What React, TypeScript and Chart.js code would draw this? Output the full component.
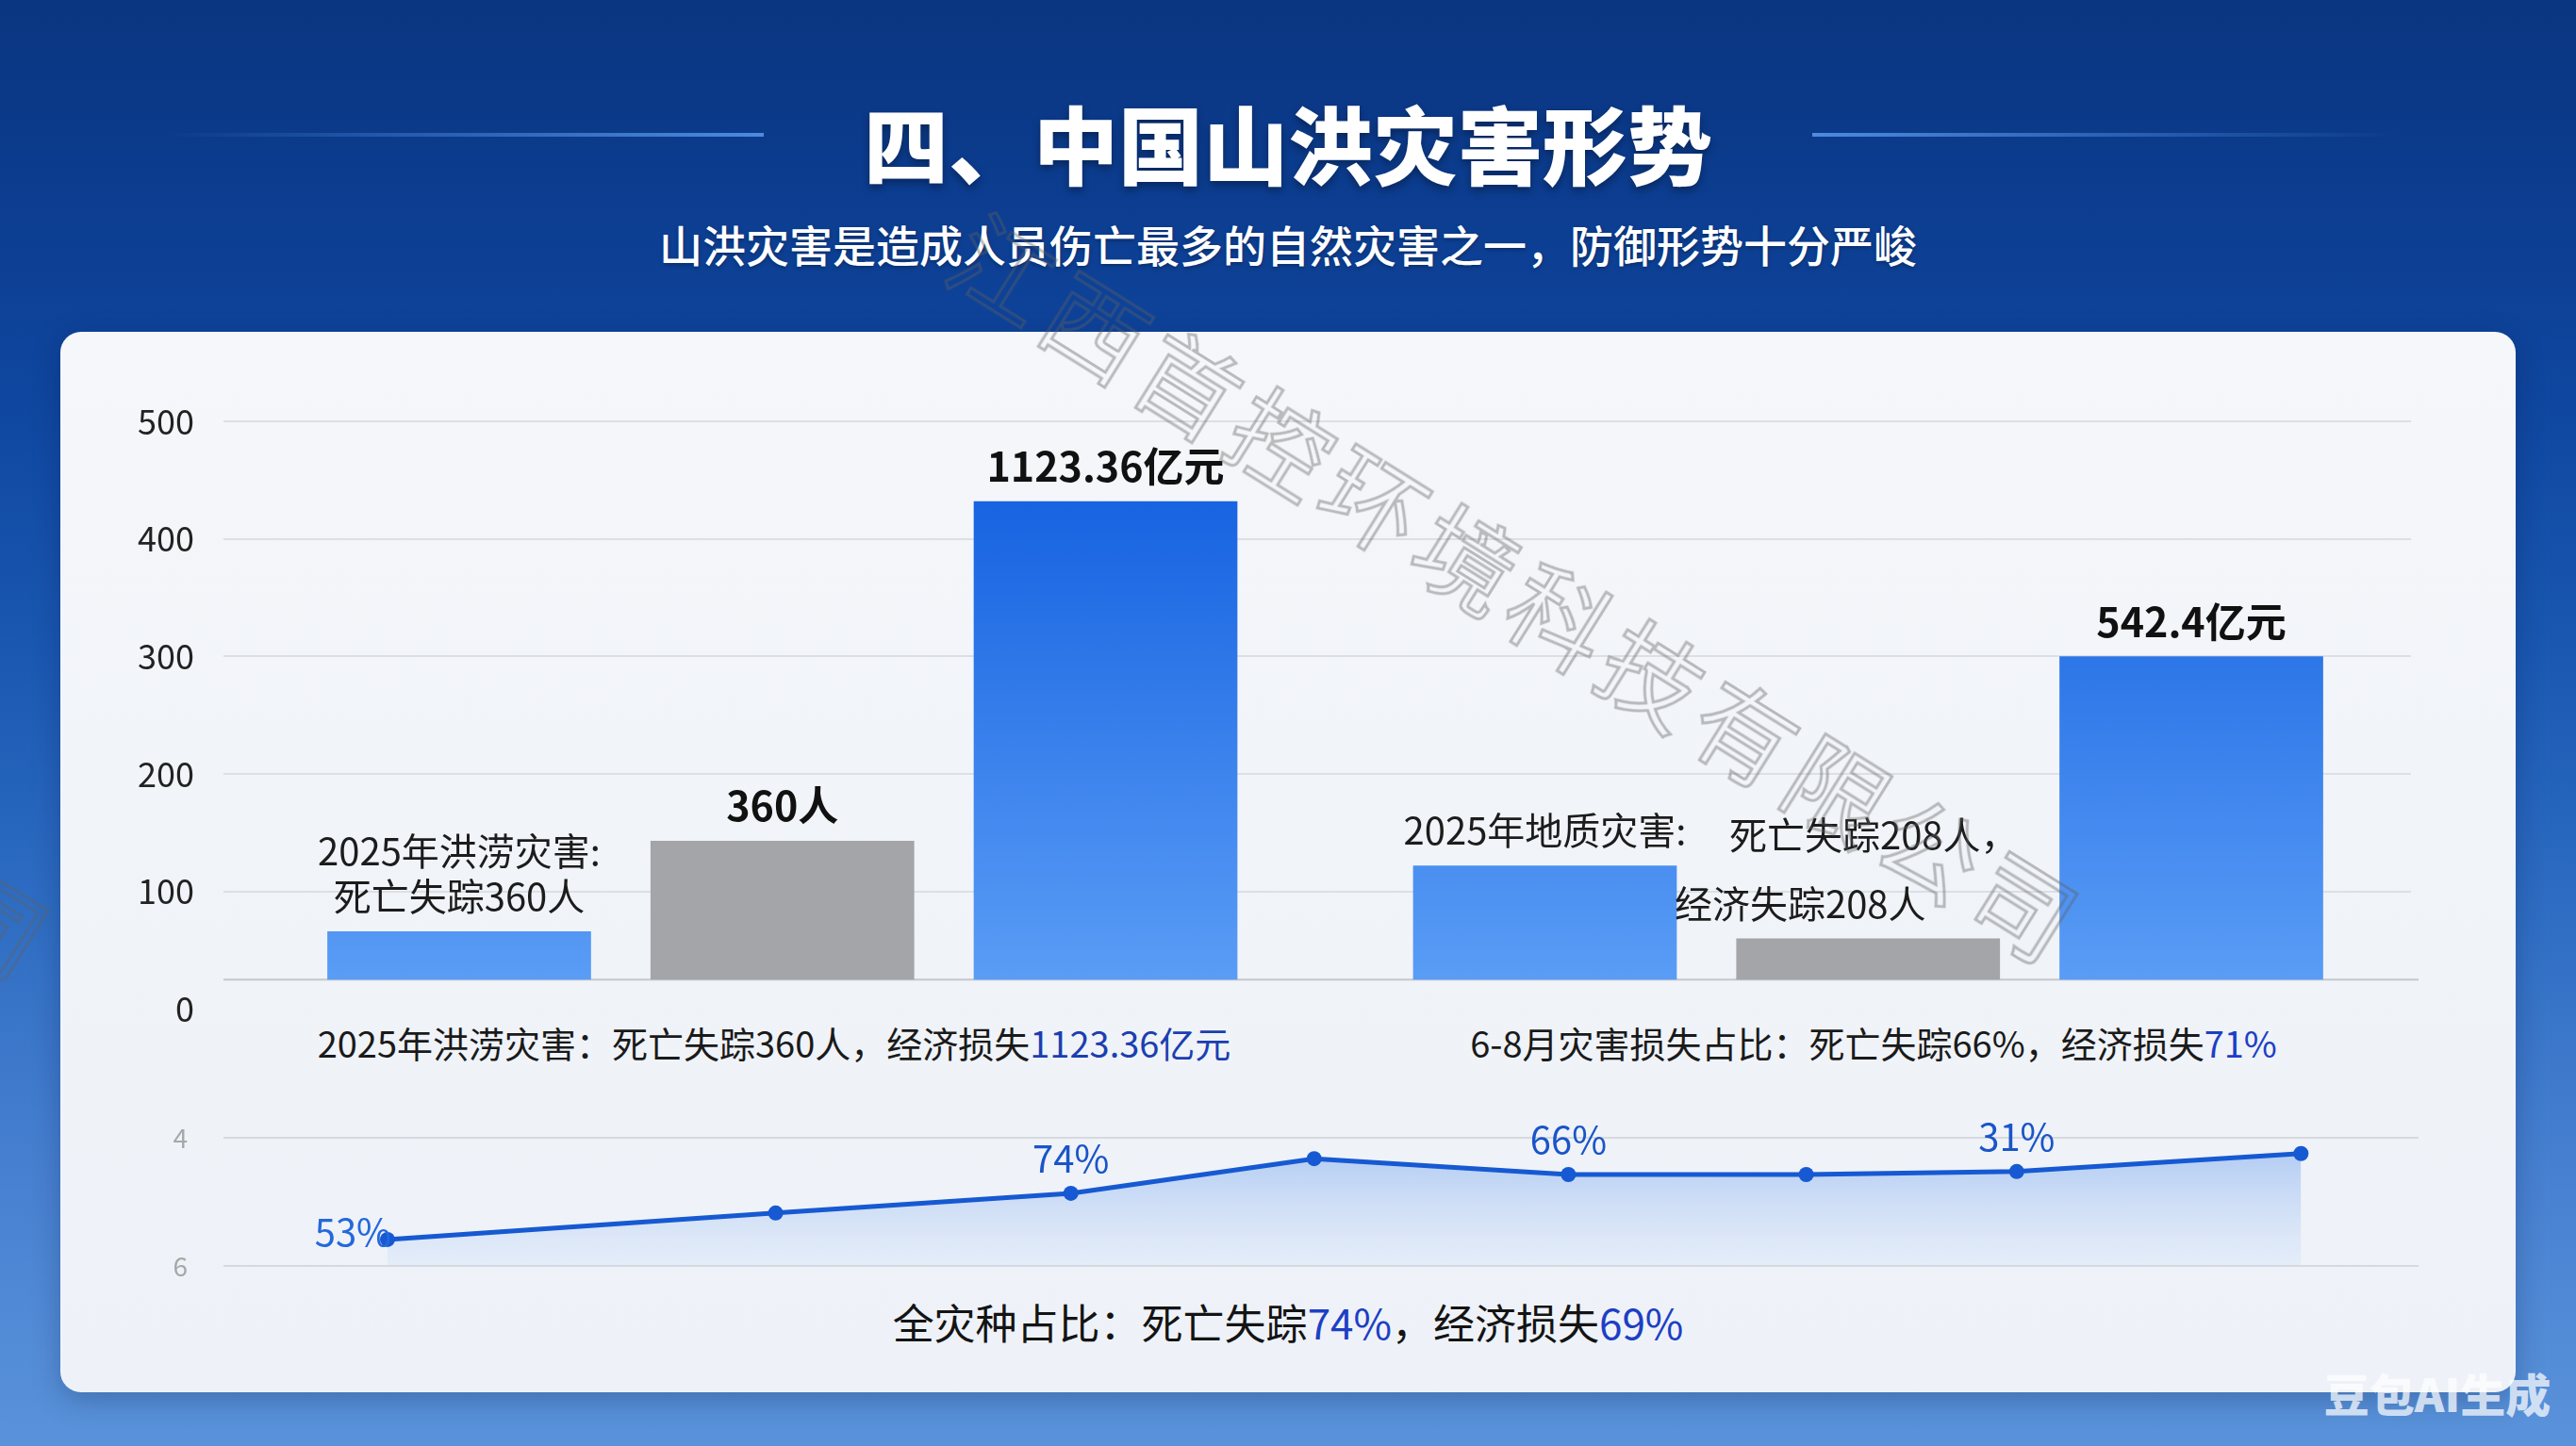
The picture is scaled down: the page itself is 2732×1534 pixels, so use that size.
import React, { useEffect, useRef } from "react";
import { Chart, registerables } from "chart.js";

Chart.register(...registerables);

const FONT = '"Noto Sans CJK SC", "Noto Sans", sans-serif';

// ---------- data ----------
const groups = ["2025年洪涝灾害", "2025年地质灾害"];
const countBarValues = [66, 122];
const peopleBarValues = [143, 60];
const lossBarValues = [432, 300];
const barBase = 25;

const countBarLabels = [["2025年洪涝灾害:", "死亡失踪360人"], ["2025年地质灾害:"]];
const peopleBarLabels = [["360人"], ["死亡失踪208人，", "经济失踪208人"]];
const lossBarLabels = [["1123.36亿元"], ["542.4亿元"]];

const lineSteps = [0, 1.42, 2.5, 3.39, 4.32, 5.19, 5.96, 7];
const lineValues = [56.2, 62.4, 67.0, 75.1, 71.4, 71.4, 72.1, 76.3];
const linePointLabels = ["53%", "", "74%", "", "66%", "", "31%", ""];
const lineTickLabels = ["6", "4"]; // bottom, top

const titleText = "四、中国山洪灾害形势";
const subtitleText = "山洪灾害是造成人员伤亡最多的自然灾害之一，防御形势十分严峻";
const watermarkText = "江西首控环境科技有限公司";

// ---------- styles (not data) ----------
const valueLabelKeys: Record<string, boolean> = { "1-0": true, "2-0": true, "2-1": true };
const labelTweaks: Record<string, { gap: number; dx: number[] }> = {
  "1-1": { gap: 73, dx: [6, -72] },
};

const blueGradient = (ctx: any) => {
  const chart = ctx.chart;
  const area = chart.chartArea;
  if (!area) return "#3d86ee";
  const g = chart.ctx.createLinearGradient(0, area.top, 0, area.bottom);
  g.addColorStop(0, "#0c5ade");
  g.addColorStop(1, "#5ea0f7");
  return g;
};

const barLabelPlugin = {
  id: "barLabels",
  afterDatasetsDraw(chart: any) {
    const c = chart.ctx;
    const all = [countBarLabels, peopleBarLabels, lossBarLabels];
    chart.data.datasets.forEach((_: any, di: number) => {
      const meta = chart.getDatasetMeta(di);
      meta.data.forEach((bar: any, i: number) => {
        const lines = all[di][i];
        if (!lines) return;
        const key = `${di}-${i}`;
        const isValue = valueLabelKeys[key];
        const tw = labelTweaks[key];
        const gap = tw ? tw.gap : 48;
        c.save();
        c.textAlign = "center";
        c.textBaseline = "middle";
        c.fillStyle = isValue ? "#111111" : "#1c1c1c";
        c.font = isValue ? `bold 43px ${FONT}` : `40px ${FONT}`;
        const n = lines.length;
        lines.forEach((t: string, li: number) => {
          const y = bar.y - 37 - (n - 1 - li) * gap;
          const dx = tw ? tw.dx[li] : 0;
          c.fillText(t, bar.x + dx, y);
        });
        c.restore();
      });
    });
  },
};

const baselinePlugin = {
  id: "baseline",
  beforeDatasetsDraw(chart: any) {
    const { ctx, chartArea, scales } = chart;
    const y = scales.y.getPixelForValue(barBase);
    ctx.save();
    ctx.strokeStyle = "#c4c7cc";
    ctx.lineWidth = 2;
    ctx.beginPath();
    ctx.moveTo(chartArea.left - 17, y);
    ctx.lineTo(chartArea.right + 8, y);
    ctx.stroke();
    ctx.restore();
  },
};

const pointLabelPlugin = {
  id: "pointLabels",
  afterDatasetsDraw(chart: any) {
    const c = chart.ctx;
    const meta = chart.getDatasetMeta(0);
    meta.data.forEach((pt: any, i: number) => {
      const t = linePointLabels[i];
      if (!t) return;
      c.save();
      c.font = `40px ${FONT}`;
      c.textBaseline = "middle";
      if (i === 0) {
        c.fillStyle = "#2468dc";
        c.textAlign = "right";
        c.fillText(t, pt.x + 4, pt.y - 8);
      } else {
        c.fillStyle = "#1a55c8";
        c.textAlign = "center";
        c.fillText(t, pt.x, pt.y - 37);
      }
      c.restore();
    });
  },
};

function BarChart() {
  const ref = useRef<HTMLCanvasElement | null>(null);
  useEffect(() => {
    if (!ref.current) return;
    const chart = new Chart(ref.current, {
      type: "bar",
      data: {
        labels: groups,
        datasets: [
          { data: countBarValues, backgroundColor: blueGradient, base: barBase } as any,
          { data: peopleBarValues, backgroundColor: "#a3a5a9", base: barBase } as any,
          { data: lossBarValues, backgroundColor: blueGradient, base: barBase } as any,
        ],
      },
      options: {
        animation: false,
        responsive: false,
        events: [],
        layout: { padding: { left: 0, right: 175, top: 67, bottom: 8 } },
        datasets: { bar: { categoryPercentage: 0.893, barPercentage: 0.816 } },
        plugins: { legend: { display: false }, tooltip: { enabled: false } },
        scales: {
          x: { display: false },
          y: {
            min: 0,
            max: 500,
            ticks: {
              stepSize: 100,
              color: "#222222",
              font: { family: FONT, size: 36 },
              padding: 31,
            },
            grid: {
              color: (ctx: any) => (ctx.tick && ctx.tick.value === 0 ? "rgba(0,0,0,0)" : "#dcdfe3"),
              lineWidth: 2,
              drawTicks: true,
              tickLength: 17,
            },
            border: { display: false },
            afterFit: (s: any) => {
              s.width = 254;
            },
          },
        },
      } as any,
      plugins: [baselinePlugin, barLabelPlugin],
    });
    return () => chart.destroy();
  }, []);
  return (
    <canvas
      ref={ref}
      width={2732}
      height={743}
      style={{ position: "absolute", left: 0, top: 380, width: 2732, height: 743 }}
    />
  );
}

function LineChart() {
  const ref = useRef<HTMLCanvasElement | null>(null);
  useEffect(() => {
    if (!ref.current) return;
    const chart = new Chart(ref.current, {
      type: "line",
      data: {
        datasets: [
          {
            data: lineSteps.map((x, i) => ({ x, y: lineValues[i] })),
            borderColor: "#1659d2",
            borderWidth: 5,
            pointRadius: 8,
            pointBackgroundColor: "#1659d2",
            pointBorderWidth: 0,
            tension: 0,
            fill: "start",
            backgroundColor: (ctx: any) => {
              const chart = ctx.chart;
              const area = chart.chartArea;
              if (!area) return "rgba(120,170,240,0.3)";
              const g = chart.ctx.createLinearGradient(0, area.top, 0, area.bottom);
              g.addColorStop(0, "rgba(100,155,236,0.5)");
              g.addColorStop(1, "rgba(200,220,250,0.25)");
              return g;
            },
          },
        ],
      },
      options: {
        animation: false,
        responsive: false,
        events: [],
        layout: { padding: { left: 0, right: 167, top: 57, bottom: 57 } },
        plugins: { legend: { display: false }, tooltip: { enabled: false } },
        scales: {
          x: { type: "linear", min: -0.6, max: 7.43, display: false },
          y: {
            min: 50,
            max: 80,
            ticks: {
              stepSize: 30,
              color: "#a8a8a8",
              font: { family: FONT, size: 28 },
              padding: 38,
              callback: (v: any) => (v === 50 ? lineTickLabels[0] : v === 80 ? lineTickLabels[1] : ""),
            },
            grid: { color: "#d6d9dd", lineWidth: 2, drawTicks: false },
            border: { display: false },
            afterFit: (s: any) => {
              s.width = 237;
            },
          },
        },
      } as any,
      plugins: [pointLabelPlugin],
    });
    return () => chart.destroy();
  }, []);
  return (
    <canvas
      ref={ref}
      width={2732}
      height={250}
      style={{ position: "absolute", left: 0, top: 1150, width: 2732, height: 250 }}
    />
  );
}

const blue = (t: string, color = "#1b3fb0") => <span style={{ color }}>{t}</span>;

function Watermark({ cx, cy }: { cx: number; cy: number }) {
  const w = 1500;
  return (
    <div
      style={{
        position: "absolute",
        left: cx - w / 2,
        top: cy - 70,
        width: w,
        height: 140,
        lineHeight: "140px",
        textAlign: "center",
        fontSize: 106,
        letterSpacing: 10,
        whiteSpace: "nowrap",
        color: "transparent",
        WebkitTextStroke: "3px rgba(95,95,95,0.4)",
        transform: "rotate(32deg)",
        transformOrigin: "50% 50%",
        pointerEvents: "none",
        fontFamily: FONT,
      } as any}
    >
      {watermarkText}
    </div>
  );
}

export default function App() {
  useEffect(() => {
    document.body.style.margin = "0";
  }, []);
  return (
    <div
      style={{
        position: "absolute",
        left: 0,
        top: 0,
        width: 2732,
        height: 1534,
        overflow: "hidden",
        fontFamily: FONT,
        background:
          "linear-gradient(180deg, #0a3580 0%, #0c3d90 14%, #0f47a0 28%, #1a58b2 45%, #2d6cc2 62%, #467fd0 80%, #5a93da 100%)",
      }}
    >
      {/* title lines */}
      <div
        style={{
          position: "absolute",
          left: 174,
          top: 141,
          width: 636,
          height: 4,
          background: "linear-gradient(90deg, rgba(80,140,225,0) 0%, #4d8ae0 100%)",
        }}
      />
      <div
        style={{
          position: "absolute",
          left: 1922,
          top: 141,
          width: 622,
          height: 4,
          background: "linear-gradient(90deg, #4d8ae0 0%, rgba(80,140,225,0) 100%)",
        }}
      />
      <div
        style={{
          position: "absolute",
          left: 0,
          top: 100,
          width: 2732,
          textAlign: "center",
          color: "#ffffff",
          fontSize: 90,
          lineHeight: "100px",
          fontWeight: 900,
          textShadow: "0 4px 8px rgba(0,0,0,0.35)",
        }}
      >
        {titleText}
      </div>
      <div
        style={{
          position: "absolute",
          left: 0,
          top: 230,
          width: 2732,
          textAlign: "center",
          color: "#ffffff",
          fontSize: 46,
          lineHeight: "56px",
          fontWeight: 500,
          textShadow: "0 2px 4px rgba(0,0,0,0.3)",
        }}
      >
        {subtitleText}
      </div>

      {/* card */}
      <div
        style={{
          position: "absolute",
          left: 64,
          top: 352,
          width: 2604,
          height: 1125,
          borderRadius: 22,
          background: "linear-gradient(180deg, #f5f7fa 0%, #f0f3f8 60%, #eef2f8 100%)",
          boxShadow: "0 8px 30px rgba(0,20,60,0.25)",
        }}
      />

      {/* summary rows */}
      <div
        style={{
          position: "absolute",
          left: 821 - 700,
          top: 1106 - 26,
          width: 1400,
          textAlign: "center",
          fontSize: 38,
          lineHeight: "52px",
          color: "#1a1a1a",
          whiteSpace: "nowrap",
        }}
      >
        2025年洪涝灾害：死亡失踪360人，经济损失{blue("1123.36亿元")}
      </div>
      <div
        style={{
          position: "absolute",
          left: 1987 - 700,
          top: 1106 - 26,
          width: 1400,
          textAlign: "center",
          fontSize: 38,
          lineHeight: "52px",
          color: "#1a1a1a",
          whiteSpace: "nowrap",
        }}
      >
        6-8月灾害损失占比：死亡失踪66%，经济损失{blue("71%", "#1d3fc4")}
      </div>
      <div
        style={{
          position: "absolute",
          left: 1366 - 800,
          top: 1402 - 30,
          width: 1600,
          textAlign: "center",
          fontSize: 44,
          lineHeight: "60px",
          color: "#141414",
          whiteSpace: "nowrap",
        }}
      >
        全灾种占比：死亡失踪{blue("74%", "#1d3fc4")}，经济损失{blue("69%", "#1d3fc4")}
      </div>

      <BarChart />
      <LineChart />

      {/* watermarks */}
      <Watermark cx={1612} cy={622} />
      <Watermark cx={-540} cy={640} />

      <div
        style={{
          position: "absolute",
          left: 2585 - 200,
          top: 1477 - 30,
          width: 400,
          textAlign: "center",
          fontSize: 48,
          lineHeight: "60px",
          fontWeight: 900,
          color: "rgba(255,255,255,0.72)",
          whiteSpace: "nowrap",
        }}
      >
        豆包AI生成
      </div>
    </div>
  );
}
